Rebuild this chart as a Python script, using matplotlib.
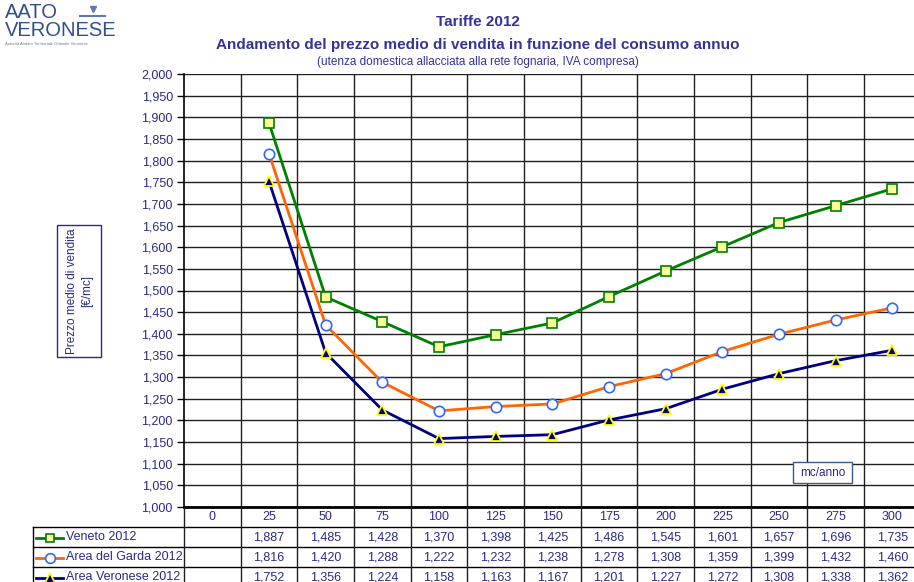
import matplotlib
matplotlib.use("Agg")
import matplotlib.pyplot as plt
from matplotlib.transforms import blended_transform_factory
from matplotlib.lines import Line2D
from matplotlib.patches import Rectangle
from matplotlib.ticker import FuncFormatter, MultipleLocator

plt.rcParams['font.family'] = ['Liberation Sans', 'DejaVu Sans']

categories = [0, 25, 50, 75, 100, 125, 150, 175, 200, 225, 250, 275, 300]
veneto = [None, 1.887, 1.485, 1.428, 1.370, 1.398, 1.425, 1.486, 1.545, 1.601, 1.657, 1.696, 1.735]
garda = [None, 1.816, 1.420, 1.288, 1.222, 1.232, 1.238, 1.278, 1.308, 1.359, 1.399, 1.432, 1.460]
veronese = [None, 1.752, 1.356, 1.224, 1.158, 1.163, 1.167, 1.201, 1.227, 1.272, 1.308, 1.338, 1.362]
series_names = ["Veneto 2012", "Area del Garda 2012", "Area Veronese 2012"]

TXT = "#2a2a8a"
W, H = 914, 582
fig = plt.figure(figsize=(W / 100, H / 100), dpi=100)

def fx(px):
    return px / W

def fy(py):
    return 1 - py / H

ax_left, ax_right, ax_top, ax_bot = 184, 920.7, 74, 507
ax = fig.add_axes([fx(ax_left), fy(ax_bot), fx(ax_right - ax_left), (ax_bot - ax_top) / H])

styles = [
    dict(color="#008000", marker="s", mfc="#ffff99", mec="#008000", ms=6.5, mew=1.2),
    dict(color="#ff6600", marker="o", mfc="white", mec="#3366ff", ms=7.5, mew=1.2),
    dict(color="#000080", marker="^", mfc="#000080", mec="#ffff00", ms=7.5, mew=1.3),
]
all_series = [veneto, garda, veronese]
xs = list(range(len(categories)))
for s, st in zip(all_series, styles):
    px = [x for x, v in zip(xs, s) if v is not None]
    py = [v for v in s if v is not None]
    ax.plot(px, py, lw=2, zorder=3, **st)

ax.set_xlim(-0.5, len(categories) - 0.5)
ax.set_ylim(1.0, 2.0)
ax.yaxis.set_major_locator(MultipleLocator(0.05))
ax.yaxis.set_major_formatter(FuncFormatter(lambda v, p: f"{v:.3f}".replace('.', ',')))
ax.tick_params(axis='y', direction='out', length=5, width=1, colors='black',
               labelcolor=TXT, labelsize=9, pad=3)
ax.set_xticks([i + 0.5 for i in range(len(categories) - 1)])
ax.tick_params(axis='x', length=0, labelbottom=False)
ax.grid(True, color="#202020", lw=1)
ax.set_axisbelow(True)
for sp in ["top", "right"]:
    ax.spines[sp].set_visible(False)
ax.spines['left'].set_linewidth(1.2)
ax.spines['bottom'].set_linewidth(2)

# table
bt = blended_transform_factory(ax.transData, fig.transFigure)
row_lines = [507, 527, 547, 567]
row_centers = [517.5, 537.5, 557.5, 577.5]
table_left = 33
for ry in row_lines[1:]:
    fig.add_artist(Line2D([fx(table_left), fx(ax_right)], [fy(ry), fy(ry)], color="black", lw=1))
for i in range(len(categories) + 1):
    xv = i - 0.5
    fig.add_artist(Line2D([xv, xv], [fy(507), fy(590)], color="#202020", lw=1, transform=bt))
fig.add_artist(Line2D([fx(table_left), fx(table_left)], [fy(527), fy(590)], color="black", lw=1))
for i, c in enumerate(categories):
    fig.text(i, fy(row_centers[0]), str(c), transform=bt, ha='center', va='center', fontsize=9, color=TXT)
for r, (s, st, name) in enumerate(zip(all_series, styles, series_names)):
    yc = fy(row_centers[r + 1])
    for i, v in enumerate(s):
        if v is not None:
            fig.text(i, yc, f"{v:.3f}".replace('.', ','), transform=bt, ha='center', va='center',
                     fontsize=9, color=TXT)
    fig.add_artist(Line2D([fx(36), fx(63)], [yc, yc], color=st['color'], lw=2))
    fig.add_artist(Line2D([fx(49.5)], [yc], marker=st['marker'], mfc=st['mfc'], mec=st['mec'],
                          ms=st['ms'] - 0.5, mew=st['mew'], lw=0))
    fig.text(fx(66), yc, name, ha='left', va='center', fontsize=9, color=TXT)

# titles
fig.text(fx(478), fy(22), "Tariffe 2012", ha='center', va='center', fontsize=11, fontweight='bold', color="#333399")
fig.text(fx(478), fy(45), "Andamento del prezzo medio di vendita in funzione del consumo annuo",
         ha='center', va='center', fontsize=11, fontweight='bold', color="#333399")
fig.text(fx(478), fy(62), "(utenza domestica allacciata alla rete fognaria, IVA compresa)",
         ha='center', va='center', fontsize=8.5, color="#333399")

# y label box
fig.add_artist(Rectangle((fx(57), fy(357)), fx(101 - 57), (357 - 225) / H, fc='white', ec=TXT, lw=1))
fig.text(fx(72), fy(291), "Prezzo medio di vendita", rotation=90, ha='center', va='center',
         fontsize=8.5, color=TXT)
fig.text(fx(87), fy(291), "[€/mc]", rotation=90, ha='center', va='center',
         fontsize=8.5, color=TXT)

# mc/anno box
fig.add_artist(Rectangle((fx(793), fy(483)), fx(852 - 793), (483 - 462) / H, fc='white', ec="#3a5a8a", lw=1,
                         zorder=5))
fig.text(fx(822.5), fy(472.5), "mc/anno", ha='center', va='center', fontsize=8.5, color=TXT, zorder=6)

# logo
fig.text(fx(5), fy(12), "AATO", ha='left', va='center', fontsize=14.5, color="#2f4f8f")
fig.text(fx(5), fy(31), "VERONESE", ha='left', va='center', fontsize=14.5, color="#2f4f8f")
fig.text(fx(5), fy(44), "Autorità Ambito Territoriale Ottimale Veronese", ha='left', va='center',
         fontsize=3, color="#6a7aa0")
fig.add_artist(Line2D([fx(80), fx(105)], [fy(16), fy(16)], color="#5a7ab0", lw=1.5))
fig.add_artist(Line2D([fx(93)], [fy(9)], marker='v', color="#5a7ab0", ms=4, lw=0))

fig.savefig("out.png", dpi=100)
